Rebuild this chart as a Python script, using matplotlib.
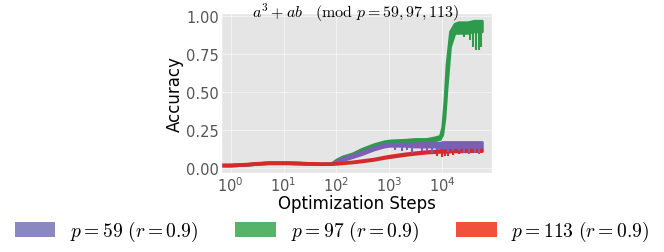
import matplotlib
matplotlib.use("Agg")
import matplotlib.pyplot as plt
from matplotlib.patches import Patch

plt.style.use("ggplot")
plt.rcParams["mathtext.fontset"] = "cm"

# optimization steps
steps = [0.66, 1, 2, 3, 5, 8, 12, 20, 30, 50, 80, 100, 130, 200, 300, 500,
         800, 1000, 2000, 3000, 5000, 7000, 9000, 10000, 11000, 12000, 14000,
         17000, 20000, 30000, 40000, 56000]

# p = 97 (green) lower / upper edge of the band
green_lo = [0.015, 0.015, 0.02, 0.025, 0.03, 0.03, 0.03, 0.028, 0.026, 0.024, 0.025,
            0.04, 0.06, 0.08, 0.11, 0.14, 0.16, 0.165, 0.17, 0.17, 0.175, 0.18,
            0.19, 0.22, 0.33, 0.52, 0.8, 0.89, 0.89, 0.89, 0.9, 0.9]
green_hi = [0.02, 0.02, 0.025, 0.03, 0.035, 0.035, 0.035, 0.033, 0.03, 0.028, 0.03,
            0.055, 0.075, 0.095, 0.125, 0.155, 0.175, 0.18, 0.185, 0.19, 0.19, 0.2,
            0.21, 0.27, 0.45, 0.68, 0.9, 0.95, 0.96, 0.96, 0.97, 0.97]

# p = 59 (purple)
purple_lo = [0.015, 0.015, 0.02, 0.025, 0.03, 0.03, 0.03, 0.028, 0.026, 0.024, 0.025,
             0.035, 0.05, 0.07, 0.09, 0.12, 0.14, 0.145, 0.145, 0.14, 0.14, 0.14,
             0.13, 0.125, 0.125, 0.125, 0.125, 0.125, 0.125, 0.125, 0.125, 0.125]
purple_hi = [0.02, 0.02, 0.025, 0.03, 0.035, 0.035, 0.035, 0.033, 0.03, 0.028, 0.03,
             0.045, 0.065, 0.085, 0.105, 0.135, 0.155, 0.16, 0.16, 0.16, 0.165, 0.165,
             0.165, 0.17, 0.17, 0.17, 0.17, 0.17, 0.17, 0.17, 0.17, 0.17]

# p = 113 (red)
red_lo = [0.015, 0.015, 0.02, 0.025, 0.03, 0.03, 0.03, 0.028, 0.026, 0.024, 0.025,
          0.026, 0.03, 0.035, 0.042, 0.052, 0.065, 0.07, 0.085, 0.092, 0.1, 0.103,
          0.105, 0.105, 0.105, 0.106, 0.107, 0.108, 0.108, 0.109, 0.11, 0.11]
red_hi = [0.022, 0.022, 0.027, 0.032, 0.037, 0.037, 0.037, 0.035, 0.032, 0.03, 0.03,
          0.031, 0.036, 0.042, 0.05, 0.06, 0.074, 0.08, 0.095, 0.102, 0.11, 0.113,
          0.115, 0.116, 0.116, 0.117, 0.118, 0.118, 0.119, 0.12, 0.12, 0.12]

# downward spikes (step, low, high)
green_dips = [(26000, 0.86, 0.92), (33000, 0.84, 0.92), (38000, 0.8, 0.92),
              (44000, 0.78, 0.92), (50000, 0.78, 0.92), (54000, 0.8, 0.92)]
purple_dips = [(1300, 0.12, 0.15), (1700, 0.11, 0.15), (2200, 0.12, 0.15),
               (2700, 0.1, 0.15), (3300, 0.13, 0.15), (4200, 0.11, 0.15),
               (5200, 0.12, 0.15), (6500, 0.1, 0.15), (8000, 0.12, 0.15),
               (13000, 0.09, 0.13), (16000, 0.1, 0.13), (21000, 0.09, 0.13),
               (26000, 0.1, 0.13), (32000, 0.09, 0.13), (42000, 0.1, 0.13),
               (50000, 0.09, 0.13)]
red_dips = [(3000, 0.085, 0.1), (5500, 0.09, 0.105), (8000, 0.08, 0.105),
            (10000, 0.07, 0.105), (11500, 0.075, 0.106), (13000, 0.08, 0.107),
            (16000, 0.085, 0.108), (21000, 0.09, 0.108)]

labels = [r"$p = 59\ (r = 0.9)$", r"$p = 97\ (r = 0.9)$", r"$p = 113\ (r = 0.9)$"]
line_colors = ["#7b5fb3", "#2e9a4e", "#d62a2a"]
patch_colors = ["#8b87c0", "#55b46a", "#f0503c"]

fig = plt.figure(figsize=(6.64, 2.53), dpi=100)
ax = fig.add_axes([0.333, 0.312, 0.408, 0.632])

series = [(green_lo, green_hi, green_dips, line_colors[1]),
          (purple_lo, purple_hi, purple_dips, line_colors[0]),
          (red_lo, red_hi, red_dips, line_colors[2])]
for lo, hi, dips, c in series:
    ax.fill_between(steps, lo, hi, color=c, lw=2, edgecolor=c)
    for s, a, b in dips:
        ax.vlines(s, a, b, color=c, lw=1.5)

ax.set_xscale("log")
ax.set_xlim(10 ** -0.18, 10 ** 4.94)
ax.set_ylim(-0.035, 1.02)
ax.set_yticks([0, 0.25, 0.5, 0.75, 1.0])
ax.tick_params(labelsize=10.5, colors="#555555", length=0, pad=1.5)
ax.tick_params(axis="x", which="minor", length=0)
ax.grid(True, color="white", lw=0.6, alpha=0.6)
ax.set_xlabel("Optimization Steps", fontsize=12, color="black", labelpad=0)
ax.set_ylabel("Accuracy", fontsize=12, color="black", labelpad=2)
fig.text(0.535, 0.995, r"$a^3 + ab \quad (\mathrm{mod}\ p = 59, 97, 113)$",
         fontsize=11.5, ha="center", va="top")

handles = [Patch(facecolor=c) for c in patch_colors]
fig.legend(handles, labels, loc="lower center", ncol=3, frameon=False,
           fontsize=14, handlelength=2.1, handleheight=0.75, columnspacing=1.9,
           handletextpad=0.75, bbox_to_anchor=(0.5, -0.035))

fig.savefig("out.png", dpi=100)
